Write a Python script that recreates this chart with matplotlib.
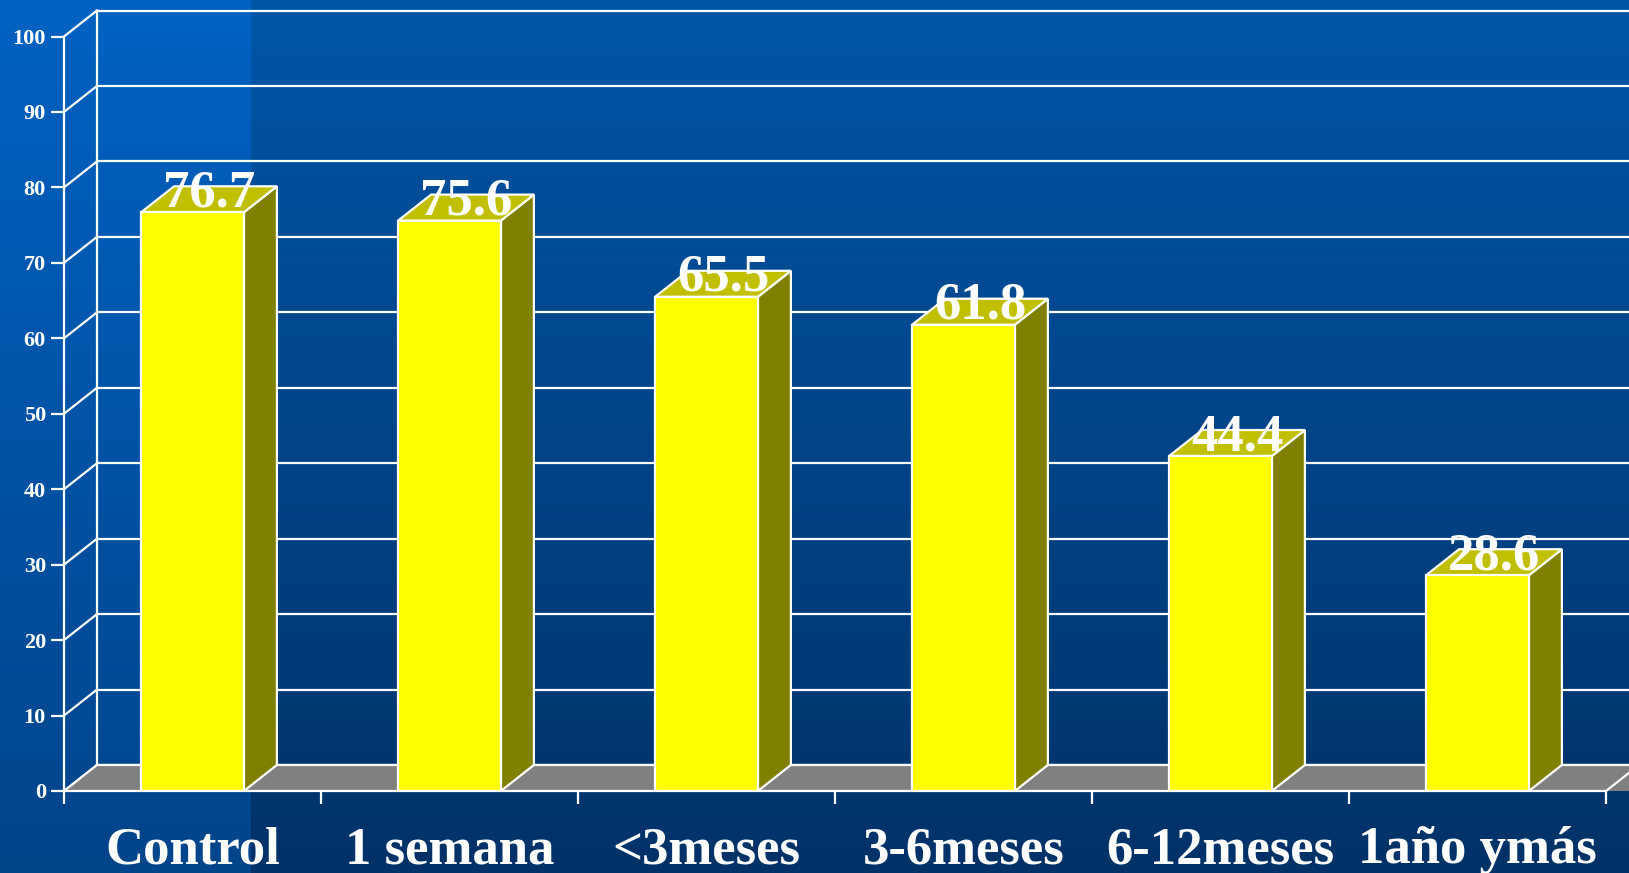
import numpy as np
import matplotlib
matplotlib.use("Agg")
import matplotlib.pyplot as plt
from matplotlib.patches import Polygon
from matplotlib.transforms import blended_transform_factory, offset_copy

# ---- data ----
categories = ["Control", "1 semana", "<3meses", "3-6meses", "6-12meses", "1año ymás"]
values = [76.7, 75.6, 65.5, 61.8, 44.4, 28.6]
yticks = [0, 10, 20, 30, 40, 50, 60, 70, 80, 90, 100]

# ---- layout (pixels) ----
W, H, DPI = 1629, 873, 100
x_left_px, x_right_px = 64, 1606
y0_px, y100_px = 791, 36.5          # from top
depth_dx_px, depth_dy_px = 33, 26

plt.rcParams['font.family'] = ['Liberation Serif', 'DejaVu Serif']
plt.rcParams['font.weight'] = 'bold'

fig = plt.figure(figsize=(W / DPI, H / DPI), dpi=DPI)

# background gradient
bg = fig.add_axes([0, 0, 1, 1])
bg.set_axis_off()
t = np.linspace(0, 1, 256)[:, None]
main_top = np.array([0, 86, 168]) / 255
main_bot = np.array([0, 50, 104]) / 255
left_top = np.array([0, 98, 194]) / 255
left_bot = np.array([0, 68, 138]) / 255
img = np.zeros((256, W, 3))
panel = 251
img[:, :panel, :] = (left_top[None, None, :] * (1 - t[..., None]) + left_bot[None, None, :] * t[..., None])
img[:, panel:, :] = (main_top[None, None, :] * (1 - t[..., None]) + main_bot[None, None, :] * t[..., None])
bg.imshow(img, aspect='auto', extent=[0, 1, 0, 1], interpolation='bilinear')
bg.set_xlim(0, 1)
bg.set_ylim(0, 1)

# main axes
ax = fig.add_axes([x_left_px / W, (H - y0_px) / H,
                   (x_right_px - x_left_px) / W, (y0_px - y100_px) / H])
ax.set_facecolor('none')
n = len(categories)
ax.set_xlim(-0.5, n - 0.5)
ax.set_ylim(0, 100)

ddx = depth_dx_px / ((x_right_px - x_left_px) / n)
ddy = depth_dy_px / ((y0_px - y100_px) / 100)

white = 'white'
lw = 1.6

# back wall gridlines + diagonals
for yv in yticks:
    ax.plot([-0.5, -0.5 + ddx], [yv, yv + ddy], color=white, lw=lw, clip_on=False, zorder=2)
    ax.plot([-0.5 + ddx, n + 1], [yv + ddy, yv + ddy], color=white, lw=lw, clip_on=False, zorder=1)
ax.plot([-0.5 + ddx, -0.5 + ddx], [ddy, 100 + ddy], color=white, lw=lw, clip_on=False, zorder=1)

# floor
floor = Polygon([(-0.5, 0), (-0.5 + ddx, ddy), (n + 1, ddy), (n + 1, 0)],
                closed=True, facecolor='#808080', edgecolor='none', clip_on=False, zorder=2)
ax.add_patch(floor)
ax.plot([-0.5, -0.5 + ddx], [0, ddy], color=white, lw=lw, clip_on=False, zorder=3)
ax.plot([-0.5 + ddx, n + 1], [ddy, ddy], color=white, lw=lw, clip_on=False, zorder=3)
ax.plot([n - 0.5, n - 0.5 + ddx], [0, ddy], color=white, lw=lw, clip_on=False, zorder=3)

# bars
bw = 0.4
xs = np.arange(n)
ax.bar(xs, values, width=bw, color='#FFFF00', edgecolor=white, linewidth=lw, zorder=5)
for x, v in zip(xs, values):
    r = x + bw / 2
    l = x - bw / 2
    side = Polygon([(r, 0), (r + ddx, ddy), (r + ddx, v + ddy), (r, v)], closed=True,
                   facecolor='#808000', edgecolor=white, lw=lw, zorder=4, clip_on=False)
    top = Polygon([(l, v), (l + ddx, v + ddy), (r + ddx, v + ddy), (r, v)], closed=True,
                  facecolor='#C0C000', edgecolor=white, lw=lw, zorder=4, clip_on=False)
    ax.add_patch(side)
    ax.add_patch(top)
    tr = offset_copy(ax.transData, fig=fig, x=0, y=6, units='dots')
    ax.text(x + ddx / 2, v, f"{v:.1f}", transform=tr, ha='center', va='baseline',
            color=white, fontsize=38, fontweight='bold', zorder=10, clip_on=False)

# spines and ticks
for s in ['top', 'right']:
    ax.spines[s].set_visible(False)
for s in ['left', 'bottom']:
    ax.spines[s].set_color(white)
    ax.spines[s].set_linewidth(lw)
    ax.spines[s].set_zorder(6)
ax.set_yticks(yticks)
ax.set_yticklabels([str(v) for v in yticks])
ax.tick_params(axis='y', colors=white, length=9.5, width=lw, direction='out',
               labelsize=16, pad=3.5)
for lab in ax.get_yticklabels():
    lab.set_fontweight('bold')
ax.set_xticks(np.arange(-0.5, n, 1.0))
ax.set_xticklabels([''] * (n + 1))
ax.tick_params(axis='x', colors=white, length=9, width=lw, direction='out')

# category labels
trx = blended_transform_factory(ax.transData, fig.transFigure)
for x, c in zip(xs, categories):
    ax.text(x, (H - 863) / H, c, transform=trx, ha='center', va='baseline',
            color=white, fontsize=38, fontweight='bold', clip_on=False)

fig.savefig('out.png', dpi=DPI)
